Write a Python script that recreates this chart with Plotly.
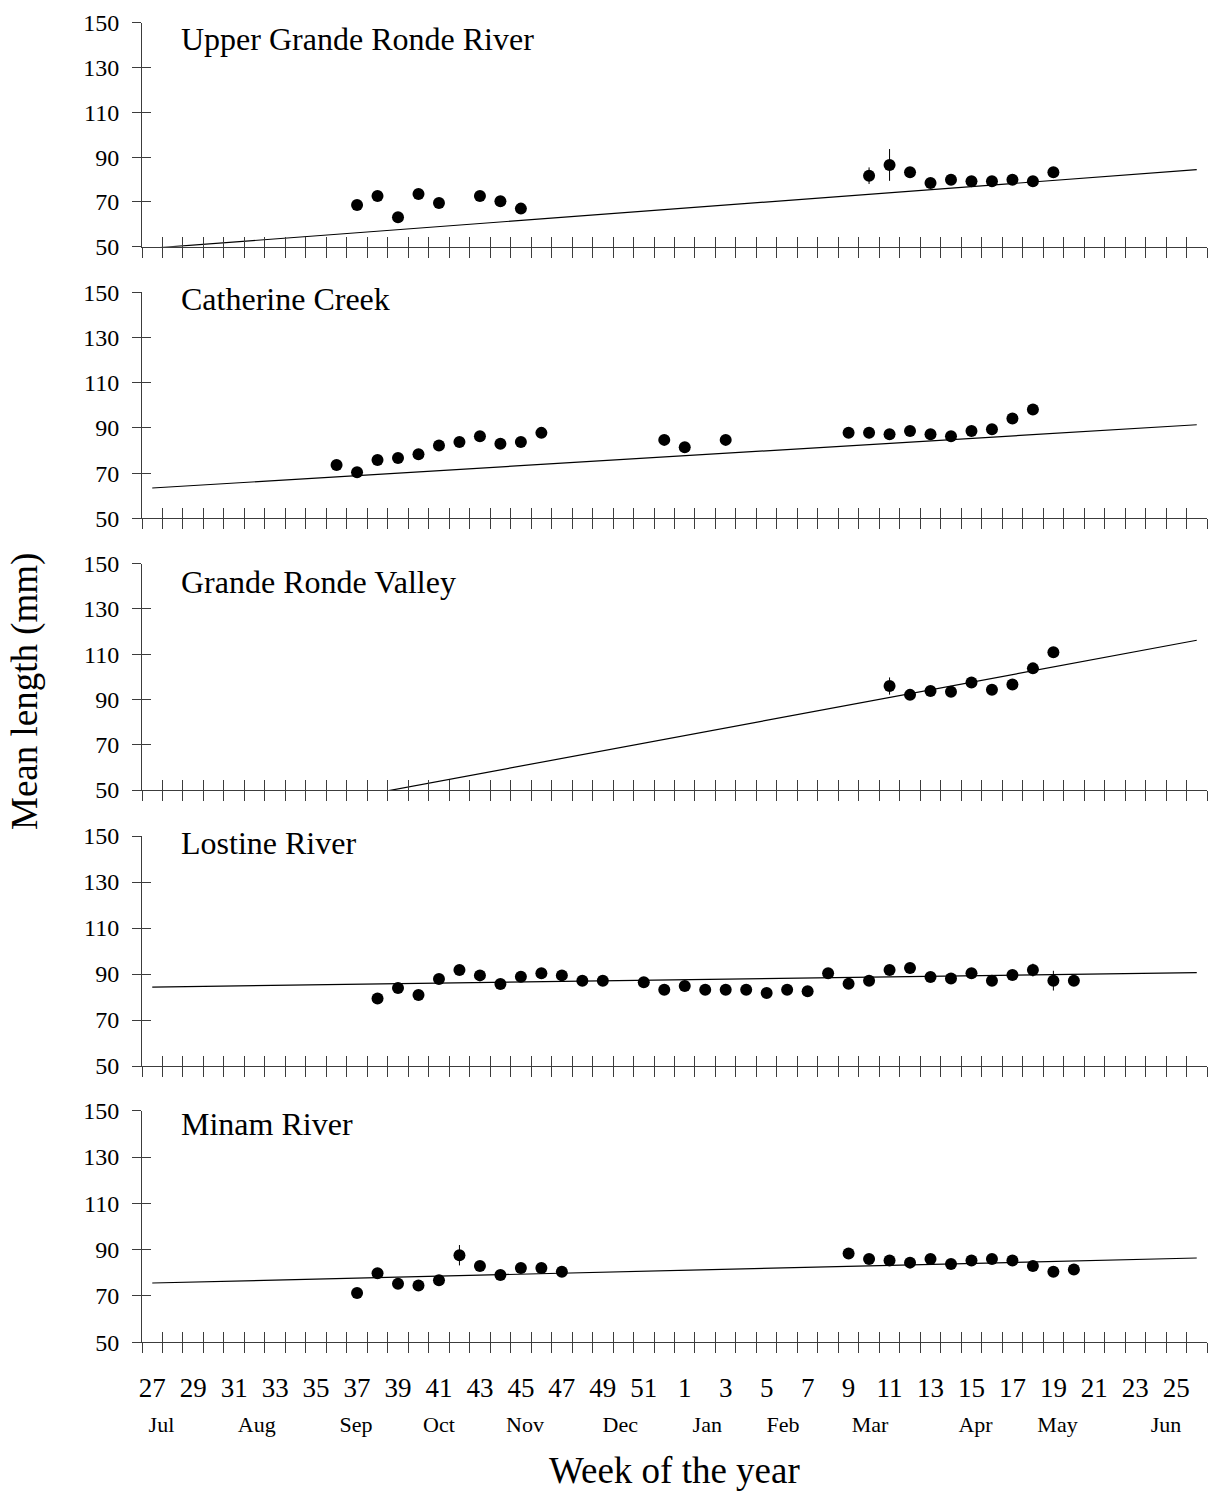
import plotly.graph_objects as go

# ---------------- data ----------------
panel_names = ["Upper Grande Ronde River", "Catherine Creek", "Grande Ronde Valley",
               "Lostine River", "Minam River"]

ugr_weeks = [37, 38, 39, 40, 41, 43, 44, 45, 10, 11, 12, 13, 14, 15, 16, 17, 18, 19]
ugr_len = [68.6, 72.6, 63.1, 73.5, 69.5, 72.6, 70.3, 67.0, 81.7, 86.5, 83.2, 78.4, 79.9, 79.2, 79.2, 79.9, 79.2, 83.2]
ugr_err = [1.5, 1.5, 1.5, 1.5, 1.5, 1.5, 1.5, 1.5, 3.7, 7.1, 1.5, 1.5, 1.5, 1.5, 1.5, 1.5, 1.5, 1.5]

cc_weeks = [36, 37, 38, 39, 40, 41, 42, 43, 44, 45, 46, 52, 1, 3, 9, 10, 11, 12, 13, 14, 15, 16, 17, 18]
cc_len = [73.6, 70.4, 75.8, 76.7, 78.3, 82.2, 83.8, 86.3, 83.0, 83.8, 87.8, 84.7, 81.4, 84.7,
          87.9, 87.9, 87.2, 88.6, 87.2, 86.3, 88.6, 89.4, 94.2, 98.1]
cc_err = [1.2, 1.2, 1.2, 1.2, 1.2, 1.2, 1.2, 1.2, 1.2, 1.2, 1.2, 1.2, 1.2, 1.2,
          1.5, 2.5, 1.5, 1.5, 1.5, 1.5, 2.5, 1.5, 1.5, 1.5]

grv_weeks = [11, 12, 13, 14, 15, 16, 17, 18, 19]
grv_len = [95.9, 92.0, 93.7, 93.4, 97.5, 94.3, 96.6, 103.7, 110.8]
grv_err = [3.8, 1.5, 1.5, 1.5, 1.5, 1.5, 1.5, 1.5, 1.5]

los_weeks = [38, 39, 40, 41, 42, 43, 44, 45, 46, 47, 48, 49, 51, 52, 1, 2, 3, 4, 5, 6, 7,
             8, 9, 10, 11, 12, 13, 14, 15, 16, 17, 18, 19, 20]
los_len = [79.3, 83.9, 80.9, 87.8, 91.7, 89.4, 85.7, 88.8, 90.3, 89.4, 87.1, 87.1, 86.4, 83.2,
           84.8, 83.2, 83.2, 83.2, 81.7, 83.2, 82.5, 90.3, 85.8, 87.1, 91.7, 92.6, 88.7, 88.0,
           90.3, 87.1, 89.6, 91.7, 87.1, 87.1]
los_err = [1.2] * 22 + [1.5, 1.5, 2.0, 2.0, 1.5, 1.5, 1.5, 1.5, 1.5, 2.8, 4.3, 2.0]

min_weeks = [37, 38, 39, 40, 41, 42, 43, 44, 45, 46, 47, 9, 10, 11, 12, 13, 14, 15, 16, 17, 18, 19, 20]
min_len = [71.3, 79.8, 75.3, 74.5, 76.8, 87.6, 82.9, 79.1, 82.1, 82.1, 80.5,
           88.3, 86.0, 85.3, 84.4, 86.0, 83.8, 85.3, 86.0, 85.3, 82.9, 80.5, 81.4]
min_err = [1.2] * 5 + [4.4] + [1.2] * 5 + [1.2] * 10 + [2.2, 1.2]

# regression line values at week 27 (start) and week 26 (end)
trend_start = [49.35, 63.4, 30.3, 84.3, 75.6]
trend_end = [84.4, 91.4, 116.1, 90.6, 86.4]

season_weeks = list(range(27, 53)) + list(range(1, 27))
week_tick_labels = [str(w) for w in season_weeks[::2]]
months = ["Jul", "Aug", "Sep", "Oct", "Nov", "Dec", "Jan", "Feb", "Mar", "Apr", "May", "Jun"]
month_anchor = [0.45, 5.1, 9.95, 14.0, 18.2, 22.85, 27.1, 30.8, 35.05, 40.2, 44.2, 49.5]  # in season-week index units
y_ticks = [50, 70, 90, 110, 130, 150]

panels = [
    (ugr_weeks, ugr_len, ugr_err),
    (cc_weeks, cc_len, cc_err),
    (grv_weeks, grv_len, grv_err),
    (los_weeks, los_len, los_err),
    (min_weeks, min_len, min_err),
]

# ---------------- layout geometry ----------------
W, H = 1210, 1496
panel_top_px = [22.7, 292.3, 563.5, 836.0, 1110.7]
panel_bot_px = [246.7, 518.3, 790.0, 1066.0, 1342.3]
title_center_px = [39, 299, 582, 843, 1124]
L_MARGIN, R_MARGIN = 142, 3
plot_w = W - L_MARGIN - R_MARGIN

FONT = "Liberation Serif"
AX = "#3c3c3c"
n_weeks = len(season_weeks)
boundaries = [i - 0.5 for i in range(n_weeks + 1)]


def week_index(w):
    return (w - 27) % 52


fig = go.Figure()
layout = dict(
    width=W, height=H,
    margin=dict(l=L_MARGIN, r=R_MARGIN, t=0, b=0, autoexpand=False),
    paper_bgcolor="white", plot_bgcolor="white",
    showlegend=False,
    font=dict(family=FONT, color="black"),
)
annotations = []

for p, (wk, ln, er) in enumerate(panels):
    a = 2 * p + 1
    b = 2 * p + 2
    sa = "" if a == 1 else str(a)
    sb = str(b)
    dom = [1 - panel_bot_px[p] / H, 1 - panel_top_px[p] / H]

    layout["xaxis" + sa] = dict(
        domain=[0, 1], range=[-0.5, n_weeks - 0.5], anchor="y" + sa, automargin=False,
        tickmode="array", tickvals=boundaries, ticks="outside", ticklen=10,
        tickwidth=1, tickcolor=AX, showticklabels=False,
        showline=True, linecolor=AX, linewidth=1, showgrid=False, zeroline=False,
    )
    layout["xaxis" + sb] = dict(
        overlaying="x" + sa, range=[-0.5, n_weeks - 0.5], anchor="y" + sa, automargin=False,
        tickmode="array", tickvals=boundaries, ticks="inside", ticklen=10,
        tickwidth=1, tickcolor=AX, showticklabels=False,
        showline=False, showgrid=False, zeroline=False,
    )
    layout["yaxis" + sa] = dict(
        domain=dom, range=[50, 150], anchor="x" + sa, automargin=False,
        tickmode="array", tickvals=y_ticks, ticks="outside", ticklen=9,
        tickwidth=1, tickcolor=AX, ticklabelstandoff=8,
        tickfont=dict(size=24, family=FONT, color="black"),
        showline=True, linecolor=AX, linewidth=1, showgrid=False, zeroline=False,
    )
    layout["yaxis" + sb] = dict(
        overlaying="y" + sa, range=[50, 150], anchor="x" + sa, automargin=False,
        tickmode="array", tickvals=y_ticks, ticks="inside", ticklen=9,
        tickwidth=1, tickcolor=AX, showticklabels=False,
        showline=False, showgrid=False, zeroline=False,
    )

    xs = [week_index(w) for w in wk]
    fig.add_trace(go.Scatter(
        x=[0, n_weeks - 1], y=[trend_start[p], trend_end[p]], mode="lines",
        line=dict(color="black", width=1.2), xaxis="x" + sa, yaxis="y" + sa,
        hoverinfo="skip",
    ))
    fig.add_trace(go.Scatter(
        x=xs, y=ln, mode="markers",
        marker=dict(color="black", size=12),
        error_y=dict(type="data", array=er, visible=True, color="black", thickness=1, width=0),
        xaxis="x" + sa, yaxis="y" + sa,
    ))
    # twin axes need a trace to be drawn
    fig.add_trace(go.Scatter(x=[None], y=[None], mode="markers",
                             xaxis="x" + sb, yaxis="y" + sb, hoverinfo="skip"))

    annotations.append(dict(
        text=panel_names[p], xref="paper", yref="paper",
        x=(179 - L_MARGIN) / plot_w, y=1 - title_center_px[p] / H,
        xanchor="left", yanchor="middle", showarrow=False,
        font=dict(size=32, family=FONT, color="black"),
    ))

# bottom week-number labels and month labels (extra overlaid axes on the last panel)
layout["xaxis11"] = dict(
    overlaying="x9", range=[-0.5, n_weeks - 0.5], anchor="y9", automargin=False,
    tickmode="array", tickvals=list(range(0, n_weeks, 2)), ticktext=week_tick_labels,
    ticks="", showline=False, showgrid=False, zeroline=False,
    ticklabelstandoff=27, tickfont=dict(size=27, family=FONT, color="black"),
)
layout["xaxis12"] = dict(
    overlaying="x9", range=[-0.5, n_weeks - 0.5], anchor="y9", automargin=False,
    tickmode="array", tickvals=month_anchor, ticktext=months,
    ticks="", showline=False, showgrid=False, zeroline=False,
    ticklabelstandoff=67, tickfont=dict(size=22, family=FONT, color="black"),
)
fig.add_trace(go.Scatter(x=[None], y=[None], xaxis="x11", yaxis="y9", hoverinfo="skip"))
fig.add_trace(go.Scatter(x=[None], y=[None], xaxis="x12", yaxis="y9", hoverinfo="skip"))

annotations.append(dict(
    text="Week of the year", xref="paper", yref="paper",
    x=0.5, y=1 - 1470 / H, xanchor="center", yanchor="middle", showarrow=False,
    font=dict(size=37, family=FONT, color="black"),
))
annotations.append(dict(
    text="Mean length (mm)", xref="paper", yref="paper", textangle=-90,
    x=(25 - L_MARGIN) / plot_w, y=1 - 692 / H, xanchor="center", yanchor="middle",
    showarrow=False, font=dict(size=37, family=FONT, color="black"),
))
layout["annotations"] = annotations

fig.update_layout(**layout)
fig.write_html("out.html")
